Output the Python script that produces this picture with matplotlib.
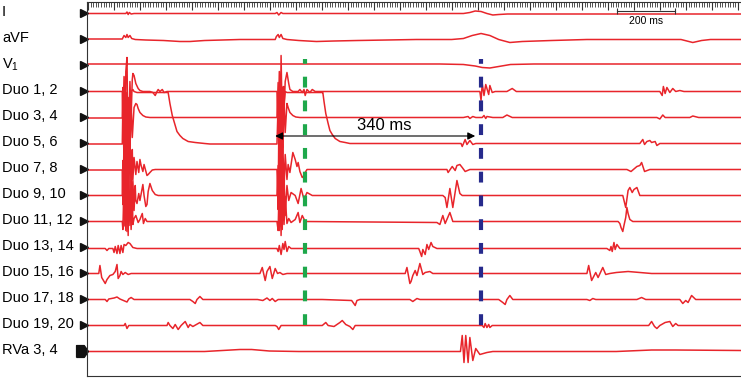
import numpy as np
import matplotlib
matplotlib.use("Agg")
from matplotlib import pyplot as plt
from matplotlib.path import Path
import matplotlib.transforms as mtransforms

plt.rcParams['font.family'] = ['Liberation Sans', 'DejaVu Sans']
plt.rcParams['mathtext.default'] = 'regular'

# channel names, top to bottom
channels = ["I", "aVF", "V$_1$", "Duo 1, 2", "Duo 3, 4", "Duo 5, 6", "Duo 7, 8",
            "Duo 9, 10", "Duo 11, 12", "Duo 13, 14", "Duo 15, 16", "Duo 17, 18",
            "Duo 19, 20", "RVa 3, 4"]

# each trace: (time ms, deflection)
lead_I = [(0, 0), (66, 0), (68, 1.5), (70, -1), (72, 1), (75, -0.5), (80, 0), (320, 0),
          (323, 1), (326, -1.5), (330, 1), (333, 0), (640, 0), (651, 1), (660, 2.5),
          (670, 2), (680, 0), (690, -1.5), (700, -1), (715, -0.5), (1112, -0.5)]
lead_aVF = [(0, 0.5), (60, 0.5), (63, 4), (66, 2), (68, 5), (70, 2), (73, 4), (76, 1),
            (82, 0), (100, -0.5), (130, -1), (158, -2), (175, -2), (200, -1), (260, 0),
            (320, 0), (322, 3), (325, 5), (327, 2), (330, 5), (333, 1), (340, 0),
            (360, -1), (390, -2), (420, -1.5), (460, -1), (560, 0), (620, 0), (640, 1),
            (655, 4), (670, 6), (685, 4), (700, 0), (719, -3), (740, -2), (790, -1),
            (850, 0), (1010, 0), (1020, -1.5), (1030, -3), (1045, -1), (1060, 0), (1112, 0)]
lead_V1 = [(0, 1.5), (600, 1.5), (640, 1), (660, -0.5), (672, -2), (685, -2.5),
           (700, -1), (720, 1), (760, 1.5), (1112, 1.5)]
duo_1_2 = [(0, 0), (60, 0), (61, -30), (63, 15), (65, -45), (66, 20), (68, 34), (69, -20),
           (71, -45), (73, 10), (75, -25), (77, 12), (78, 18), (80, 16), (83, 8), (87, 3),
           (90, 1), (95, 0), (107, 0), (112, -1), (116, -4), (119, 0), (121, 2), (124, 0),
           (128, 2), (131, -1), (136, 0), (320, 0), (323, 0), (325, -40), (327, 20),
           (329, -30), (330, 36), (332, -35), (334, 5), (335, -20), (337, 10), (340, 19),
           (343, 8), (345, 2), (350, 0), (359, 0), (362, 2), (366, -1), (369, 2), (371, -4),
           (374, 2), (379, -1), (383, 2), (388, 0), (668, 0), (670, -9), (672, 8),
           (675, -4), (678, 7), (683, -3), (685, 6), (689, -1), (694, 0), (714, 0),
           (723, 3), (730, 0), (974, 0), (978, -4), (980, 5), (983, -2), (986, 4),
           (991, -1), (996, 3), (1001, 0), (1008, 1), (1015, 0), (1112, 0)]
duo_3_4 = [(0, -0.5), (60, -0.5), (61, 30), (63, -25), (65, 40), (66, -40), (68, 25),
           (70, -30), (71, 20), (73, -35), (75, 15), (77, -20), (80, 10), (83, 14),
           (85, 13), (87, 9), (90, 5), (95, 2), (100, 0.5), (107, 0), (320, 0), (323, 0),
           (325, 35), (327, -40), (328, 30), (330, -35), (332, 25), (333, -30), (335, 20),
           (337, -15), (340, 14), (342, 10), (345, 5), (350, 2), (355, 0.5), (362, 0),
           (640, 0), (648, 1), (651, -1), (656, 1), (661, 0), (672, 0), (675, 2),
           (678, -1), (680, 1), (690, 0), (707, 0), (714, 2.5), (723, 0), (969, 0),
           (974, -1.5), (979, 2.5), (983, 0), (1025, 0), (1030, 1.5), (1040, 0), (1112, 0)]
duo_5_6 = [(0, -0.5), (60, -0.5), (61, 40), (63, -20), (64, 45), (66, -30), (68, 50),
           (70, -25), (71, 40), (73, -15), (75, 52), (78, 54), (80, 52), (85, 51),
           (136, 51), (138, 51), (141, 40), (145, 28), (150, 18), (153, 12), (158, 8),
           (163, 5), (172, 2), (184, 1), (200, 0), (209, -0.5), (323, -0.5), (325, 40),
           (327, -25), (328, 45), (330, -20), (332, 50), (333, -10), (335, 40), (337, 52),
           (340, 51), (400, 51), (401, 51), (403, 42), (406, 30), (410, 20), (413, 13),
           (417, 9), (422, 5), (430, 2), (439, 1), (447, 0), (636, 0), (638, -3), (643, 4),
           (646, -1), (651, 3), (656, -1), (661, 0), (940, 0), (945, 4), (948, -1),
           (952, 2), (957, 3), (960, 1), (966, 2), (969, -2), (974, 0), (1112, 0)]
duo_7_8 = [(0, -0.5), (60, -0.5), (61, -35), (63, 30), (65, -45), (66, 35), (68, -30),
           (70, 40), (71, -25), (73, 30), (75, -20), (77, 20), (78, -10), (80, 12),
           (83, -5), (85, 8), (88, -3), (90, 10), (92, 4), (95, -2), (97, 5), (102, -6),
           (104, -5), (107, -3), (111, -0.5), (116, 0), (323, 0), (325, -40), (326, 30),
           (328, -35), (330, 40), (332, -30), (333, 25), (335, -20), (337, 15),
           (340, -10), (342, 5), (345, -3), (350, 17), (354, 10), (357, 3), (359, 7),
           (362, -2), (366, -8), (369, -6), (371, -3), (374, 0), (612, 0), (614, -3),
           (621, 3), (626, -1), (629, 4), (634, 5), (638, 2), (643, -2), (651, 0),
           (918, 0), (925, -2), (935, 3), (940, 4), (943, 7), (948, -2), (957, 0), (1112, 0)]
duo_9_10 = [(0, 0), (60, 0), (61, 35), (63, -30), (64, 40), (66, -35), (68, 30),
            (70, -40), (71, 25), (73, -30), (75, 20), (77, -25), (78, 15), (80, -15),
            (82, 10), (83, -5), (85, -8), (88, 2), (90, -5), (95, 11), (97, 0),
            (100, -11), (102, -9), (104, 4), (107, 12), (111, 5), (116, 1), (121, 0),
            (323, 0), (325, 30), (327, -35), (328, 35), (330, -40), (332, 30), (333, -25),
            (335, 20), (337, -20), (340, 10), (343, -5), (347, 3), (354, 0), (359, -8),
            (364, 7), (369, -4), (374, 3), (383, 0), (605, 0), (609, -2), (612, -12),
            (617, 7), (622, -12), (629, 15), (634, 2), (638, 0), (911, 0), (916, -12),
            (920, 5), (923, 8), (927, 3), (930, 6), (935, 8), (940, 0), (1112, 0)]
duo_11_12 = [(0, 0), (60, 0), (61, -8), (63, 40), (65, -5), (66, 55), (68, -10),
             (70, 45), (71, 0), (73, 30), (75, -8), (77, 20), (78, -3), (80, 3), (83, 6),
             (87, -1), (90, 2), (94, 8), (96, -2), (99, 3), (102, 0), (320, 0),
             (323, 0), (325, -9), (327, 45), (328, -5), (330, 50), (332, -8), (333, 40),
             (335, -3), (337, 25), (340, -2), (343, 3), (347, -1), (354, 2), (359, 9),
             (362, -1), (366, 6), (371, 0), (595, -1), (600, -3), (605, 6), (609, -2),
             (617, 9), (622, 0), (903, 0), (906, -2), (908, -6), (911, -10), (913, -4),
             (916, 4), (918, 14), (920, 8), (923, 2), (928, 0), (1112, 0)]
duo_13_14 = [(0, -1), (31, -1), (34, -3), (37, -1), (44, -1), (46, -5), (48, 1), (51, -6),
             (53, 2), (56, -6), (58, 2), (61, -5), (63, 3), (66, 2), (70, 5), (73, 4),
             (78, 0), (85, -1), (320, -1), (323, -1), (325, -4), (327, 2), (330, -7),
             (333, 4), (335, -2), (337, 6), (340, -4), (343, 1), (347, -1), (564, -1),
             (566, -4), (569, -9), (571, -2), (575, -7), (578, 3), (581, -2), (585, 5),
             (588, 1), (595, -1), (884, -1), (889, -3), (891, 1), (893, -4), (896, 5),
             (898, -2), (901, 3), (906, -1), (1112, -1)]
duo_15_16 = [(0, 0), (20, 0), (22, 8), (25, -4), (31, -10), (34, -6), (39, -2), (44, -1),
             (48, 2), (51, 9), (53, -5), (56, -2), (58, 2), (61, -1), (65, 1), (70, -1),
             (75, 0), (294, 0), (298, 6), (303, -7), (306, 2), (311, 7), (315, -5),
             (320, 5), (324, 0), (328, 1), (333, -1), (340, 0), (541, 0), (544, 6),
             (549, -10), (551, -8), (554, -2), (558, 3), (561, -2), (566, 10), (571, -1),
             (575, 1), (583, 2), (588, 0), (850, 0), (853, 8), (858, -7), (865, 1),
             (869, -4), (877, 6), (882, -1), (889, 0), (900, 1), (920, 2), (940, 1),
             (960, 0), (1112, 0)]
duo_17_18 = [(0, 0), (31, 0), (34, -2), (37, 0.5), (46, 1.5), (51, 2.5), (56, 0.5),
             (68, -2.5), (71, 0.5), (75, 2), (80, 0), (175, 0), (180, -2), (184, -4),
             (187, 0), (192, 3), (197, 0), (290, 0), (299, -1), (306, 1.5), (311, -1),
             (315, 1), (320, -2), (325, 0), (400, 0), (450, -1), (456, -6), (459, -1),
             (464, 0), (549, 0), (554, -2), (561, 1), (566, 0), (700, 0), (707, -3),
             (711, -5), (714, 0), (719, 4), (724, 0), (850, 0), (855, -1), (860, 1),
             (865, 0), (935, 0), (943, 2), (950, 0), (1008, 0), (1013, -4), (1018, -1),
             (1022, -3), (1028, 4), (1035, 0), (1112, 0)]
duo_19_20 = [(0, 0), (63, 0), (65, 2), (68, -3), (71, 0), (136, 0), (138, 3), (141, 0),
             (146, -3), (150, 1), (155, -4), (160, 0), (167, 4), (172, -2), (175, 1),
             (180, -1), (192, 3), (197, 0), (320, 0), (323, -1), (326, -4), (330, 0),
             (400, 0), (406, 3), (410, 0), (420, -1), (430, 3), (434, 5), (440, 1),
             (447, -1), (452, -4), (456, 0), (672, 0), (675, -2), (677, 2), (680, -2),
             (683, 1), (685, -2), (689, 0), (955, 0), (960, 4), (965, -1), (969, -3),
             (974, 0), (983, 3), (991, 4), (996, -1), (1001, 2), (1005, 0), (1112, 0)]
rva_3_4 = [(0, 0), (200, 0), (230, 1), (260, 2), (280, 2), (310, 0.5), (360, 0), (635, 0),
           (638, 16), (641, -11), (644, 16), (648, -11), (651, 14), (656, -9), (661, 3),
           (668, -3), (680, -1), (690, 0), (900, 0), (960, 1.5), (1000, 1.5), (1112, 1)]

traces = [lead_I, lead_aVF, lead_V1, duo_1_2, duo_3_4, duo_5_6, duo_7_8, duo_9_10,
          duo_11_12, duo_13_14, duo_15_16, duo_17_18, duo_19_20, rva_3_4]

# timing marks
green_time = 371
blue_time = 670
interval = (320, 660)
interval_label = "340 ms"
scale_bar = (901, 1000)
scale_label = "200 ms"

red = '#e8252b'

fig = plt.figure(figsize=(7.41, 3.79), dpi=100)
ax = fig.add_axes([87 / 741, 3 / 379, 654 / 741, 374 / 379])
ax.set_xlim(0, 1112)
ax.set_ylim(-376, -2)

offsets = -(13.5 + 26 * np.arange(len(channels)))

lab_tf = mtransforms.blended_transform_factory(fig.transFigure, ax.transData)
house = Path([(-1, -1), (0.3, -1), (1, 0), (0.3, 1), (-1, 1), (-1, -1)])

for name, tr, base in zip(channels, traces, offsets):
    d = np.array(tr, dtype=float)
    ax.plot(d[:, 0], base + d[:, 1], color=red, lw=1.1, solid_joinstyle='round')
    ax.text(2 / 741, base + 1, name, transform=lab_tf, fontsize=10.5,
            va='center', ha='left')
    if name.startswith("RVa"):
        ax.plot([-8], [base], marker=house, ms=8.5, color='#111111', clip_on=False)
    else:
        ax.plot([-4.3], [base], marker='>', ms=6, color='#111111', clip_on=False)

# dashed reference lines
ax.plot([green_time, green_time], [-59, -325], color='#1ea84b', lw=3,
        linestyle=(1.45, (2.6, 3.1)), dash_capstyle='butt')
ax.plot([blue_time, blue_time], [-59, -328], color='#262a8c', lw=3,
        linestyle=(1.45, (2.6, 3.1)), dash_capstyle='butt')

# interval arrow
ax.annotate('', xy=(interval[0], -136), xytext=(interval[1], -136),
            arrowprops=dict(arrowstyle='<|-|>', color='black', lw=0.8,
                            mutation_scale=11, shrinkA=0, shrinkB=0))
ax.text(505, -125, interval_label, fontsize=12, ha='center', va='center')

# scale bar
ax.plot(scale_bar, [-11, -11], color='#333333', lw=0.8, marker='|', ms=5, mew=0.8)
ax.text(sum(scale_bar) / 2, -21, scale_label, fontsize=7.5, ha='center', va='center')

# ruler along the top
ax.set_xticks(np.arange(1.8, 1112, 44.2))
ax.set_xticks(np.arange(1.8, 1112, 4.42), minor=True)
ax.tick_params(axis='x', which='both', top=True, bottom=False, labeltop=False,
               labelbottom=False, direction='in', color='#333333')
ax.tick_params(axis='x', which='major', length=6, width=0.8)
ax.tick_params(axis='x', which='minor', length=3.5, width=0.6)
ax.set_yticks([])
ax.spines['right'].set_visible(False)
for s in ['left', 'top', 'bottom']:
    ax.spines[s].set_color('#333333')
    ax.spines[s].set_linewidth(0.8)

fig.savefig('out.png', dpi=100)
